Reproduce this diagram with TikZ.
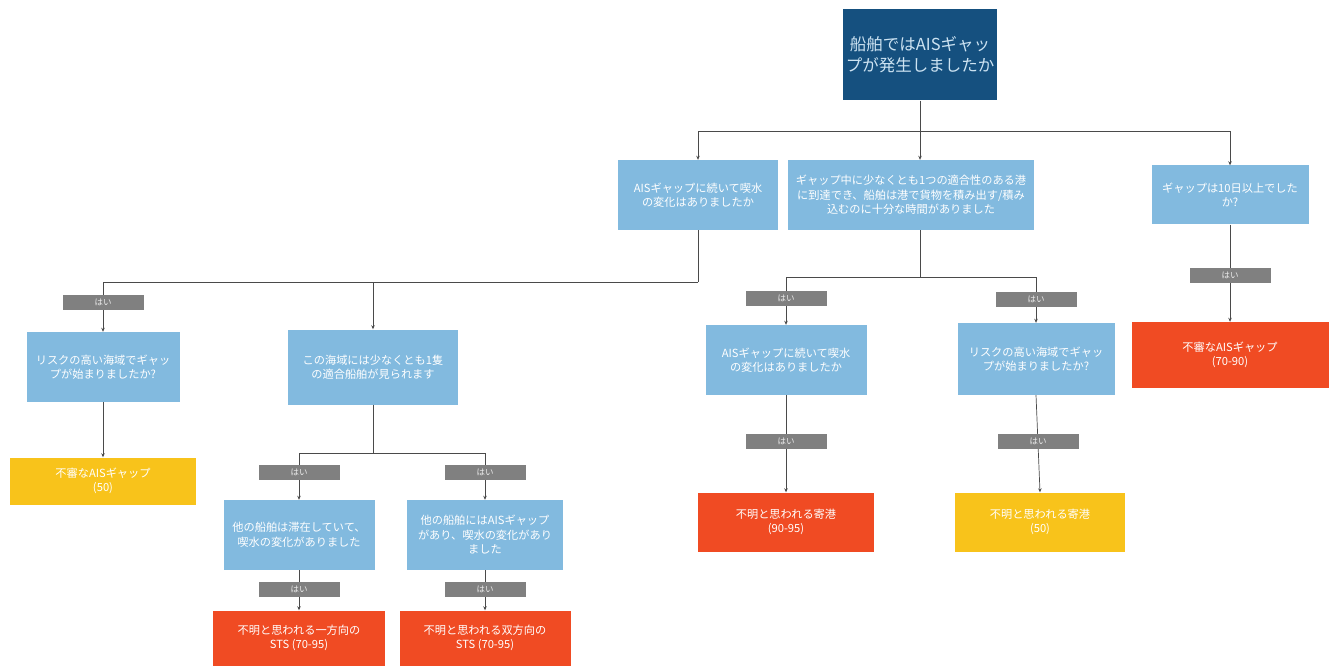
\documentclass[tikz,border=0pt]{standalone}
\usepackage{fontspec}
\newfontfamily\jp{Noto Sans CJK JP}
\usetikzlibrary{arrows.meta}
\definecolor{dblue}{HTML}{15507F}
\definecolor{lblue}{HTML}{82BADF}
\definecolor{rred}{HTML}{F04B23}
\definecolor{yyel}{HTML}{F8C31B}
\definecolor{gbar}{HTML}{808080}
\definecolor{lcol}{HTML}{4A4A4A}
\begin{document}
\begin{tikzpicture}[x=1pt,y=-1pt,
  base/.style={draw=none, text=white, align=center, inner sep=2pt, font=\jp\fontsize{11.2}{14.5}\selectfont},
  qbox/.style={base, fill=lblue},
  topbox/.style={base, fill=dblue, text=lblue!40!white, font=\jp\fontsize{16.5}{21}\selectfont},
  redbox/.style={base, fill=rred},
  yelbox/.style={base, fill=yyel},
  yeslab/.style={draw=none, fill=gbar, text=white!85!gbar, minimum width=81pt, minimum height=15pt, inner sep=0pt, font=\jp\fontsize{8.5}{9}\selectfont},
  conn/.style={draw=lcol, line width=0.7pt},
  arr/.style={conn, -{Stealth[length=4pt,width=3.5pt]}}
]
\useasboundingbox[fill=white] (0,0) rectangle (1329,668);

% nodes
\node[topbox, minimum width=154pt, minimum height=91pt] (top) at (920,55) {船舶ではAISギャッ\\プが発生しましたか};
\node[qbox, minimum width=160pt, minimum height=70pt] (b1) at (698,195) {AISギャップに続いて喫水\\の変化はありましたか};
\node[qbox, minimum width=246pt, minimum height=70pt] (b2) at (911,195) {ギャップ中に少なくとも1つの適合性のある港\\に到達でき、船舶は港で貨物を積み出す/積み\\込むのに十分な時間がありました};
\node[qbox, minimum width=157pt, minimum height=59pt] (b3) at (1230,195) {ギャップは10日以上でした\\か?};

\node[qbox, minimum width=153pt, minimum height=70pt] (c1) at (103,367) {リスクの高い海域でギャッ\\プが始まりましたか?};
\node[qbox, minimum width=170pt, minimum height=75pt] (c2) at (373,367) {この海域には少なくとも1隻\\の適合船舶が見られます};
\node[qbox, minimum width=161pt, minimum height=70pt] (c3) at (786,360) {AISギャップに続いて喫水\\の変化はありましたか};
\node[qbox, minimum width=157pt, minimum height=72pt] (c4) at (1036,359) {リスクの高い海域でギャッ\\プが始まりましたか?};
\node[redbox, minimum width=197pt, minimum height=66pt] (r1) at (1230,355) {不審なAISギャップ\\(70-90)};

\node[yelbox, minimum width=186pt, minimum height=47pt] (y1) at (103,481) {不審なAISギャップ\\(50)};
\node[qbox, minimum width=151pt, minimum height=70pt] (d1) at (299,535) {他の船舶は滞在していて、\\喫水の変化がありました};
\node[qbox, minimum width=156pt, minimum height=70pt] (d2) at (485,535) {他の船舶にはAISギャップ\\があり、喫水の変化があり\\ました};
\node[redbox, minimum width=176pt, minimum height=59pt] (r2) at (786,522) {不明と思われる寄港\\(90-95)};
\node[yelbox, minimum width=170pt, minimum height=59pt] (y2) at (1040,522) {不明と思われる寄港\\(50)};

\node[redbox, minimum width=172pt, minimum height=55pt] (r3) at (299,638) {不明と思われる一方向の\\STS (70-95)};
\node[redbox, minimum width=171pt, minimum height=55pt] (r4) at (485,638) {不明と思われる双方向の\\STS (70-95)};

% junctions
\coordinate (j1) at (920,131);
\coordinate (j2) at (698,282);
\coordinate (j3) at (373,453);
\coordinate (j4) at (920,277);

% connectors
\draw[conn] (top.south) -- (j1);
\draw[arr] (j1) -| (b1.north);
\draw[arr] (j1) -- (j1 |- b2.north);
\draw[arr] (j1) -| (b3.north);

\draw[conn] (b1.south) -- (j2);
\draw[arr] (j2) -| (c1.north);
\draw[arr] (j2) -| (c2.north);

\draw[arr] (c1.south) -- (y1.north);

\draw[conn] (c2.south) -- (j3);
\draw[arr] (j3) -| (d1.north);
\draw[arr] (j3) -| (d2.north);

\draw[arr] (d1.south) -- (r3.north);
\draw[arr] (d2.south) -- (r4.north);

\draw[conn] (b2.south -| j4) -- (j4);
\draw[arr] (j4) -| (c3.north);
\draw[arr] (j4) -| (c4.north);

\draw[arr] (c3.south) -- (r2.north);
\draw[arr] (c4.south) -- (y2.north);

\draw[arr] (b3.south) -- (r1.north);

% yes labels
\node[yeslab] (l1) at (103,302) {はい};
\node[yeslab] (l2) at (299,472) {はい};
\node[yeslab] (l3) at (485,472) {はい};
\node[yeslab] (l4) at (299,589) {はい};
\node[yeslab] (l5) at (485,589) {はい};
\node[yeslab] (l6) at (786,298) {はい};
\node[yeslab] (l7) at (1036,299) {はい};
\node[yeslab] (l8) at (786,441) {はい};
\node[yeslab] (l9) at (1038,441) {はい};
\node[yeslab] (l10) at (1230,275) {はい};
\end{tikzpicture}
\end{document}
